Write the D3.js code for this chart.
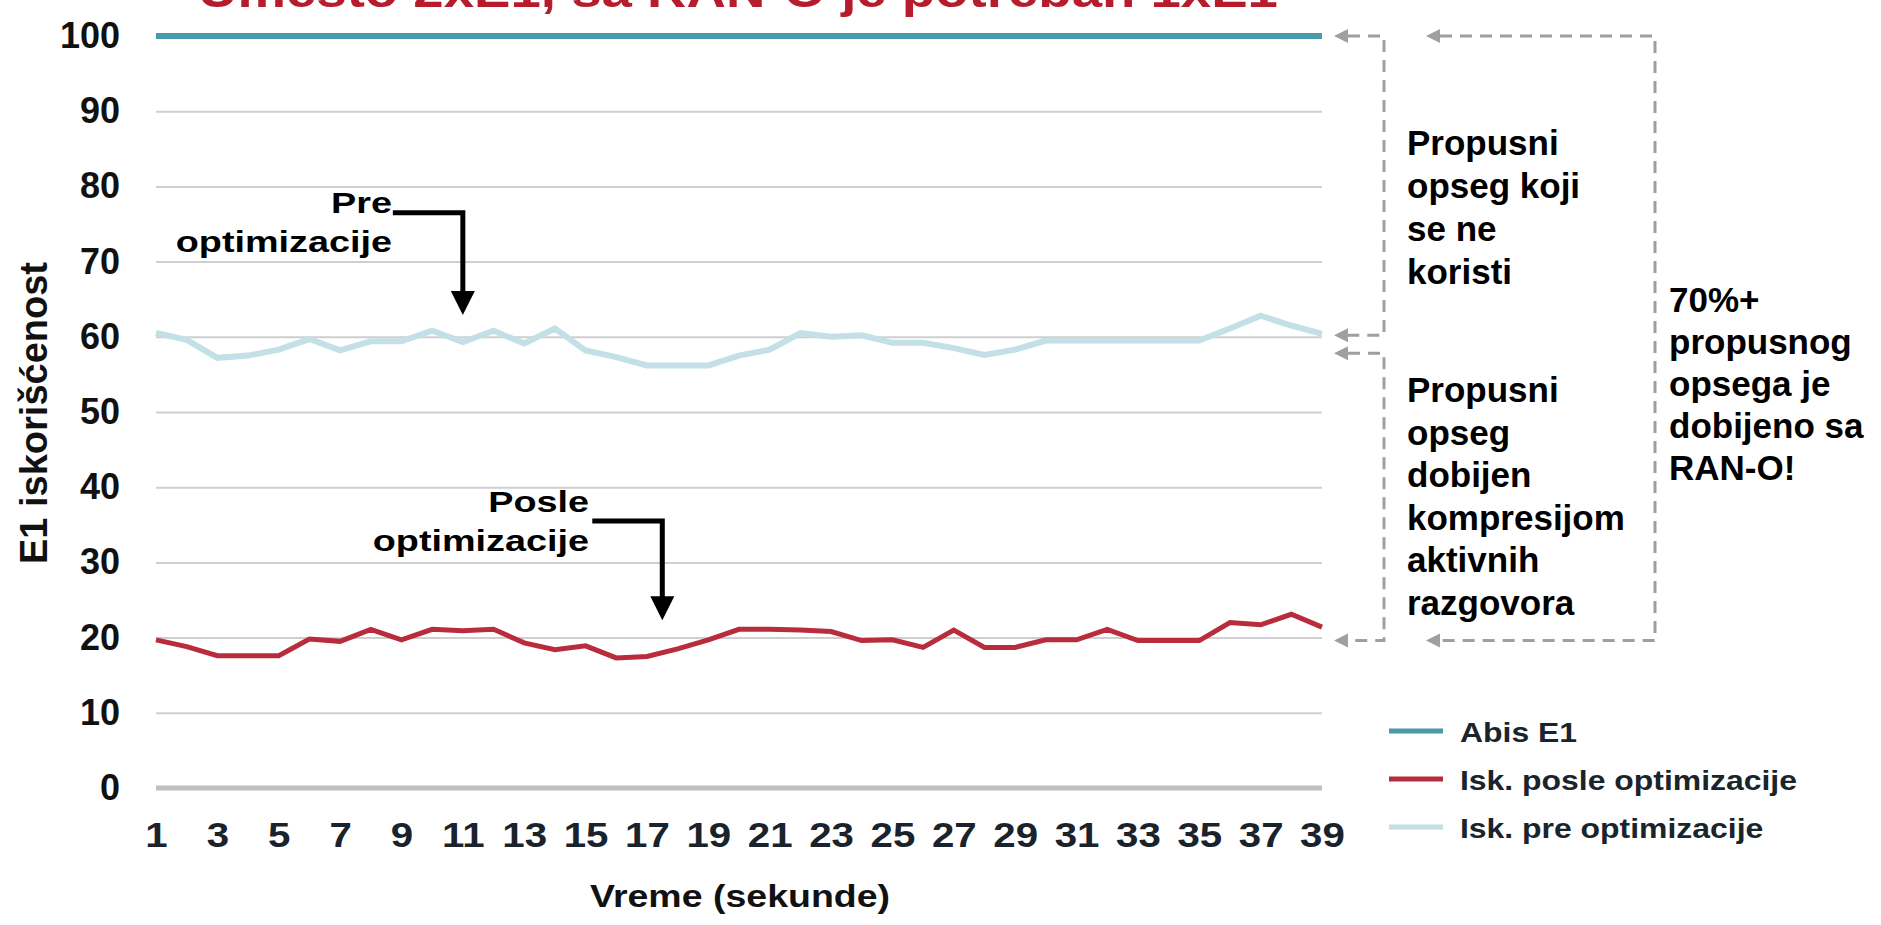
<!DOCTYPE html>
<html>
<head>
<meta charset="utf-8">
<script src="https://cdn.jsdelivr.net/npm/d3@7"></script>
<style>
  body { margin: 0; background: #fff; }
  text { font-family: "Liberation Sans", Arial, sans-serif; font-weight: bold; }
</style>
</head>
<body>
<svg id="chart" width="1881" height="925"></svg>
<script>
// seconds on the x axis
const seconds = [1, 2, 3, 4, 5, 6, 7, 8, 9, 10, 11, 12, 13, 14, 15, 16, 17, 18, 19, 20,
  21, 22, 23, 24, 25, 26, 27, 28, 29, 30, 31, 32, 33, 34, 35, 36, 37, 38, 39];
const abisE1 = [100, 100, 100, 100, 100, 100, 100, 100, 100, 100, 100, 100, 100, 100, 100, 100, 100, 100, 100, 100,
  100, 100, 100, 100, 100, 100, 100, 100, 100, 100, 100, 100, 100, 100, 100, 100, 100, 100, 100];
const iskPosle = [19.7, 18.8, 17.6, 17.6, 17.6, 19.8, 19.5, 21.1, 19.7, 21.1, 20.9, 21.1, 19.3, 18.4, 18.9, 17.3, 17.5, 18.5, 19.7, 21.1,
  21.1, 21.0, 20.8, 19.6, 19.7, 18.7, 21.0, 18.7, 18.7, 19.7, 19.7, 21.1, 19.6, 19.6, 19.6, 22.0, 21.7, 23.1, 21.4];
const iskPre = [60.5, 59.6, 57.2, 57.5, 58.3, 59.7, 58.2, 59.4, 59.4, 60.8, 59.3, 60.8, 59.1, 61.1, 58.2, 57.3, 56.2, 56.2, 56.2, 57.5,
  58.3, 60.5, 60.0, 60.2, 59.2, 59.2, 58.5, 57.6, 58.3, 59.5, 59.5, 59.5, 59.5, 59.5, 59.5, 61.1, 62.8, 61.5, 60.4];
const yTicks = [0, 10, 20, 30, 40, 50, 60, 70, 80, 90, 100];
const xTicks = [1, 3, 5, 7, 9, 11, 13, 15, 17, 19, 21, 23, 25, 27, 29, 31, 33, 35, 37, 39];
const seriesNames = ["Abis E1", "Isk. posle optimizacije", "Isk. pre optimizacije"];
const seriesColors = ["#4a9aad", "#b92c3b", "#c2e0e6"];

// bracket levels (y values) for the dashed annotations on the right
const unusedBand = [100, 60.2];
const savedBand = [57.8, 19.6];
const totalBand = [100, 19.6];

const plotLeft = 156, plotRight = 1322, plotTop = 36, plotBottom = 788;

const svg = d3.select("#chart");

const x = d3.scaleLinear().domain([1, 39]).range([plotLeft, plotRight]);
const y = d3.scaleLinear().domain([0, 100]).range([plotBottom, plotTop]);

// title (cut off at the top, as in the slide)
svg.append("text")
  .attr("x", 738)
  .attr("y", 7)
  .attr("text-anchor", "middle")
  .attr("font-size", 46)
  .attr("fill", "#b71c2c")
  .attr("textLength", 1080)
  .attr("lengthAdjust", "spacingAndGlyphs")
  .text("Umesto 2xE1, sa RAN-O je potreban 1xE1");

// gridlines
const grid = svg.append("g")
  .attr("transform", `translate(${plotLeft},0)`)
  .call(d3.axisLeft(y)
    .tickValues(yTicks.filter(v => v > 0 && v < 100))
    .tickSize(-(plotRight - plotLeft))
    .tickFormat(""));
grid.select(".domain").remove();
grid.selectAll("line").attr("stroke", "#cfcfcf").attr("stroke-width", 2);

svg.append("line")
  .attr("x1", plotLeft).attr("x2", plotRight)
  .attr("y1", y(0)).attr("y2", y(0))
  .attr("stroke", "#bfbfbf")
  .attr("stroke-width", 5);

// y axis labels
const yAxis = svg.append("g")
  .attr("transform", `translate(${plotLeft},0)`)
  .call(d3.axisLeft(y).tickValues(yTicks).tickSize(0).tickPadding(36));
yAxis.select(".domain").remove();
yAxis.attr("font-family", null);
yAxis.selectAll("text")
  .attr("font-size", 36)
  .attr("fill", "#111");

// x axis labels
const xAxis = svg.append("g")
  .attr("transform", `translate(0,${plotBottom})`)
  .call(d3.axisBottom(x).tickValues(xTicks).tickSize(0).tickPadding(34));
xAxis.select(".domain").remove();
xAxis.attr("font-family", null);
xAxis.selectAll("text")
  .attr("font-size", 35)
  .attr("fill", "#1a232b")
  .attr("transform", "scale(1.15,1)");

svg.append("text")
  .attr("x", 740)
  .attr("y", 907)
  .attr("text-anchor", "middle")
  .attr("font-size", 32)
  .attr("fill", "#111")
  .attr("textLength", 300)
  .attr("lengthAdjust", "spacingAndGlyphs")
  .text("Vreme (sekunde)");

svg.append("text")
  .attr("transform", `translate(47,413) rotate(-90)`)
  .attr("text-anchor", "middle")
  .attr("font-size", 38)
  .attr("fill", "#111")
  .text("E1 iskorišćenost");

// lines
const series = [abisE1, iskPosle, iskPre];
const line = d3.line()
  .x((d, i) => x(seconds[i]))
  .y(d => y(d));
const widths = [6, 5, 6];
[2, 1, 0].forEach(k => {
  svg.append("path")
    .datum(series[k])
    .attr("fill", "none")
    .attr("stroke", seriesColors[k])
    .attr("stroke-width", widths[k])
    .attr("stroke-linejoin", "miter")
    .attr("d", line);
});

// black callout arrows
const callout = (label, xAt, yCorner, yTip, textX, textY) => {
  const cx = x(xAt), cy = y(yCorner), ty = y(yTip);
  svg.append("path")
    .attr("d", `M${cx - 70},${cy}H${cx}V${ty - 20}`)
    .attr("fill", "none")
    .attr("stroke", "#000")
    .attr("stroke-width", 5);
  svg.append("path")
    .attr("d", `M${cx},${ty}L${cx - 12},${ty - 24}L${cx + 12},${ty - 24}Z`)
    .attr("fill", "#000");
  const t = svg.append("text")
    .attr("transform", `translate(${textX},${textY}) scale(1.26,1)`)
    .attr("text-anchor", "end")
    .attr("font-size", 30)
    .attr("fill", "#000");
  label.forEach((s, i) => {
    t.append("tspan").attr("x", 0).attr("dy", i ? 39 : 0).text(s);
  });
};
callout(["Pre", "optimizacije"], 11, 76.5, 62.9, 392, 213);
callout(["Posle", "optimizacije"], 17.5, 35.5, 22.3, 589, 512);

// dashed brackets with arrowheads
const dashed = "#9f9f9f";
const arrowLeft = (tipX, yy) => {
  svg.append("path")
    .attr("d", `M${tipX},${yy}L${tipX + 14},${yy - 7}L${tipX + 14},${yy + 7}Z`)
    .attr("fill", dashed);
};
const bracket = (band, tipX, edgeX) => {
  const y0 = y(band[0]), y1 = y(band[1]);
  svg.append("path")
    .attr("d", `M${tipX + 14},${y0}H${edgeX}V${y1}H${tipX + 14}`)
    .attr("fill", "none")
    .attr("stroke", dashed)
    .attr("stroke-width", 3)
    .attr("stroke-dasharray", "12 8");
  arrowLeft(tipX, y0);
  arrowLeft(tipX, y1);
};
bracket(unusedBand, 1334, 1384);
bracket(savedBand, 1334, 1384);
bracket(totalBand, 1426, 1655);

const block = (lines, left, top, step) => {
  const t = svg.append("text")
    .attr("x", left)
    .attr("y", top)
    .attr("font-size", 35)
    .attr("fill", "#000");
  lines.forEach((s, i) => {
    t.append("tspan").attr("x", left).attr("dy", i ? step : 0).text(s);
  });
};
block(["Propusni", "opseg koji", "se ne", "koristi"], 1407, 155, 43);
block(["Propusni", "opseg", "dobijen", "kompresijom", "aktivnih", "razgovora"], 1407, 402, 42.5);
block(["70%+", "propusnog", "opsega je", "dobijeno sa", "RAN-O!"], 1669, 312, 42);

// legend
const legend = svg.append("g")
  .selectAll("g")
  .data(seriesNames)
  .join("g")
  .attr("transform", (d, i) => `translate(1389,${731 + i * 48})`);
legend.append("line")
  .attr("x1", 0).attr("x2", 54)
  .attr("stroke", (d, i) => seriesColors[i])
  .attr("stroke-width", 5);
legend.append("text")
  .attr("transform", "translate(71,11) scale(1.14,1)")
  .attr("font-size", 28)
  .attr("fill", "#1a242c")
  .text(d => d);
</script>
</body>
</html>
